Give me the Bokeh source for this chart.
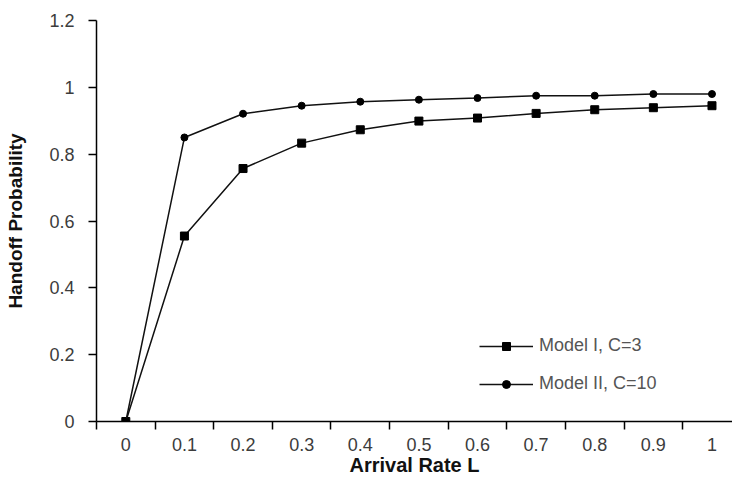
from bokeh.plotting import figure
from bokeh.models import FixedTicker, Legend, LegendItem, Range1d
from bokeh.embed import file_html
from bokeh.resources import INLINE

x_labels = ["0", "0.1", "0.2", "0.3", "0.4", "0.5", "0.6", "0.7", "0.8", "0.9", "1"]
model1 = [0.0, 0.555, 0.757, 0.833, 0.873, 0.899, 0.908, 0.922, 0.933, 0.939, 0.945]
model2 = [0.0, 0.850, 0.921, 0.945, 0.957, 0.963, 0.968, 0.975, 0.975, 0.980, 0.980]
y_ticks = [0, 0.2, 0.4, 0.6, 0.8, 1.0, 1.2]
y_tick_labels = ["0", "0.2", "0.4", "0.6", "0.8", "1", "1.2"]
series_names = ["Model I, C=3", "Model II, C=10"]

FONT = "Liberation Sans"
xs = list(range(len(x_labels)))

p = figure(width=732, height=481, output_backend="svg", toolbar_location=None,
           x_range=Range1d(-0.5, 10.35), y_range=Range1d(0, 1.2),
           min_border_left=96, min_border_right=0, min_border_top=20, min_border_bottom=60)
p.outline_line_color = None
p.xgrid.visible = False
p.ygrid.visible = False
p.background_fill_color = "white"
p.border_fill_color = "white"

r1l = p.line(xs, model1, line_color="#111111", line_width=1.5)
r1m = p.scatter(xs, model1, marker="square", size=8, fill_color="black", line_color="black")
r2l = p.line(xs, model2, line_color="#111111", line_width=1.5)
r2m = p.scatter(xs, model2, marker="circle", size=7, fill_color="black", line_color="black")

# x axis: labels centered on categories, ticks on category boundaries
xa = p.xaxis[0]
xa.ticker = FixedTicker(ticks=xs, minor_ticks=[i - 0.5 for i in range(len(x_labels) + 1)])
xa.major_label_overrides = {i: lab for i, lab in enumerate(x_labels)}
xa.major_tick_line_color = None
xa.major_tick_out = 8
xa.major_tick_in = 0
xa.minor_tick_out = 8
xa.minor_tick_in = 0
xa.minor_tick_line_color = "black"
xa.minor_tick_line_width = 1.5
xa.axis_line_color = "black"
xa.axis_line_width = 1.5
xa.major_label_standoff = 8
xa.major_label_text_font = FONT
xa.major_label_text_font_size = "18px"
xa.major_label_text_color = "#3c3c3c"
xa.axis_label = "Arrival Rate L"
xa.axis_label_text_font = FONT
xa.axis_label_text_font_style = "bold"
xa.axis_label_text_font_size = "20px"
xa.axis_label_text_color = "#111111"
xa.axis_label_standoff = 0

ya = p.yaxis[0]
ya.ticker = FixedTicker(ticks=y_ticks, minor_ticks=[])
ya.major_label_overrides = {t: lab for t, lab in zip(y_ticks, y_tick_labels)}
ya.major_tick_out = 8
ya.major_tick_in = 0
ya.major_tick_line_color = "black"
ya.major_tick_line_width = 1.5
ya.axis_line_color = "black"
ya.axis_line_width = 1.5
ya.major_label_standoff = 14
ya.major_label_text_font = FONT
ya.major_label_text_font_size = "18px"
ya.major_label_text_color = "#3c3c3c"
ya.axis_label = "Handoff Probability"
ya.axis_label_text_font = FONT
ya.axis_label_text_font_style = "bold"
ya.axis_label_text_font_size = "19px"
ya.axis_label_text_color = "#111111"
ya.axis_label_standoff = 20

legend = Legend(items=[LegendItem(label=series_names[0], renderers=[r1l, r1m]),
                       LegendItem(label=series_names[1], renderers=[r2l, r2m])],
                location=(383, 27), orientation="vertical",
                glyph_width=54, glyph_height=20, label_height=20,
                label_standoff=6, spacing=17, padding=0, margin=0,
                border_line_color=None, background_fill_alpha=0,
                label_text_font=FONT, label_text_font_size="18px",
                label_text_color="#555555")
p.add_layout(legend, "center")

open("out.html", "w").write(file_html(p, INLINE))
